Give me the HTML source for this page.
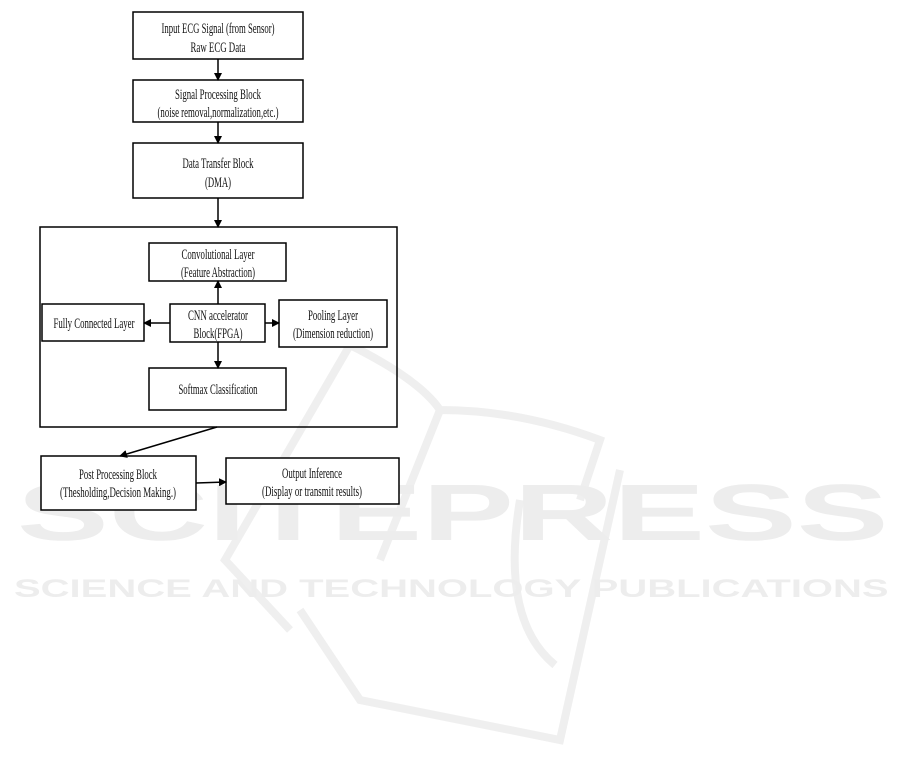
<!DOCTYPE html>
<html><head><meta charset="utf-8"><style>
html,body{margin:0;padding:0;background:#fff;}
svg{display:block;}
.t text{font-family:"Liberation Serif",serif;font-size:15px;fill:#111;}
.wm{font-family:"Liberation Sans",sans-serif;font-weight:bold;fill:#ededed;}
</style></head><body>
<svg width="901" height="772" viewBox="0 0 901 772" xmlns="http://www.w3.org/2000/svg">
<defs><marker id="a" markerWidth="8" markerHeight="8" refX="7" refY="4" orient="auto" markerUnits="userSpaceOnUse"><path d="M0,0 L8,4 L0,8 z" fill="#000"/></marker></defs>
<g fill="none" stroke="#efefef" stroke-width="8">
<path d="M350,345 L225,560 L290,630 M350,345 Q420,380 440,410 Q520,410 600,440 L580,500 M440,410 L380,560 M555,665 Q500,620 520,500"/>
<path d="M300,610 L360,700 L560,740 L620,470"/>
</g>
<text class="wm" transform="translate(17,540) scale(1.72,1)" style="font-size:80px">SCITEPRESS</text>
<text class="wm" transform="translate(14,597) scale(1.60,1)" style="font-size:25px">SCIENCE AND TECHNOLOGY PUBLICATIONS</text>
<g fill="#fff" stroke="#000" stroke-width="1.5">
<rect x="133" y="12" width="170" height="47"/>
<rect x="133" y="80" width="170" height="42"/>
<rect x="133" y="143" width="170" height="55"/>
<rect x="40" y="227" width="357" height="200" fill="none"/>
<rect x="149" y="243" width="137" height="38"/>
<rect x="42" y="304" width="102" height="37"/>
<rect x="170" y="304" width="95" height="38"/>
<rect x="279" y="300" width="108" height="47"/>
<rect x="149" y="368" width="137" height="42"/>
<rect x="41" y="456" width="155" height="54"/>
<rect x="226" y="458" width="173" height="46"/>
</g>
<g stroke="#000" stroke-width="1.5" marker-end="url(#a)">
<line x1="218" y1="59" x2="218" y2="80"/>
<line x1="218" y1="122" x2="218" y2="143"/>
<line x1="218" y1="198" x2="218" y2="227"/>
<line x1="218" y1="304" x2="218" y2="281"/>
<line x1="218" y1="342" x2="218" y2="368"/>
<line x1="170" y1="323" x2="144" y2="323"/>
<line x1="265" y1="323" x2="279" y2="323"/>
<line x1="217" y1="427" x2="120" y2="456"/>
<line x1="196" y1="483" x2="226" y2="482"/>
</g>
<g class="t" text-anchor="middle">
<text x="218" y="33" textLength="113" lengthAdjust="spacingAndGlyphs">Input ECG Signal (from Sensor)</text>
<text x="218" y="52" textLength="55" lengthAdjust="spacingAndGlyphs">Raw ECG Data</text>
<text x="218" y="99" textLength="86" lengthAdjust="spacingAndGlyphs">Signal Processing Block</text>
<text x="218" y="117" textLength="121" lengthAdjust="spacingAndGlyphs">(noise removal,normalization,etc.)</text>
<text x="218" y="168" textLength="71" lengthAdjust="spacingAndGlyphs">Data Transfer Block</text>
<text x="218" y="187" textLength="26" lengthAdjust="spacingAndGlyphs">(DMA)</text>
<text x="218" y="259" textLength="73" lengthAdjust="spacingAndGlyphs">Convolutional Layer</text>
<text x="218" y="277" textLength="74" lengthAdjust="spacingAndGlyphs">(Feature Abstraction)</text>
<text x="94" y="328" textLength="81" lengthAdjust="spacingAndGlyphs">Fully Connected Layer</text>
<text x="218" y="320" textLength="60" lengthAdjust="spacingAndGlyphs">CNN accelerator</text>
<text x="218" y="338" textLength="49" lengthAdjust="spacingAndGlyphs">Block(FPGA)</text>
<text x="333" y="320" textLength="50" lengthAdjust="spacingAndGlyphs">Pooling Layer</text>
<text x="333" y="338" textLength="80" lengthAdjust="spacingAndGlyphs">(Dimension reduction)</text>
<text x="218" y="394" textLength="79" lengthAdjust="spacingAndGlyphs">Softmax Classification</text>
<text x="118" y="479" textLength="78" lengthAdjust="spacingAndGlyphs">Post Processing Block</text>
<text x="118" y="497" textLength="116" lengthAdjust="spacingAndGlyphs">(Thesholding,Decision Making.)</text>
<text x="312" y="478" textLength="60" lengthAdjust="spacingAndGlyphs">Output Inference</text>
<text x="312" y="496" textLength="100" lengthAdjust="spacingAndGlyphs">(Display or transmit results)</text>
</g>
</svg>
</body></html>
